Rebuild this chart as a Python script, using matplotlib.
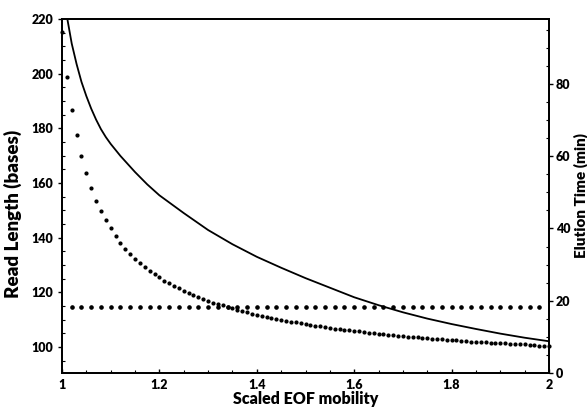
import numpy as np
import matplotlib
matplotlib.use("Agg")
import matplotlib.pyplot as plt
from matplotlib.ticker import MultipleLocator, FuncFormatter

# solid curve: read length (bases) vs scaled EOF mobility
mob_solid = [1.011, 1.02, 1.03, 1.04, 1.05, 1.06, 1.07, 1.08, 1.09, 1.10,
             1.12, 1.15, 1.175, 1.2, 1.25, 1.3, 1.35, 1.4, 1.45, 1.5,
             1.55, 1.6, 1.65, 1.7, 1.75, 1.8, 1.85, 1.9, 1.95, 2.0]
read_len = [220, 211.0, 203.5, 197.0, 191.8, 187.2, 183.2, 179.7, 176.8, 174.3,
            169.9, 164.0, 159.5, 155.5, 149.0, 142.8, 137.6, 133.0, 129.0, 125.2,
            121.7, 118.2, 115.3, 112.7, 110.4, 108.4, 106.6, 104.9, 103.4, 102.1]

# dotted curve: elution time (min), one point every 0.01
mob_time = np.round(np.arange(1.00, 2.001, 0.01), 2)
elution = [94.3, 82.0, 72.8, 65.8, 60.1, 55.4, 51.1, 47.7, 44.8, 42.3,
           40.1, 37.9, 36.0, 34.4, 32.9, 31.6, 30.4, 29.3, 28.3, 27.3,
           26.5, 25.6, 24.9, 24.1, 23.4, 22.8, 22.2, 21.6, 21.0, 20.5,
           20.0, 19.5, 19.1, 18.7, 18.3, 17.9, 17.5, 17.1, 16.8, 16.4,
           16.1, 15.8, 15.5, 15.2, 15.0, 14.7, 14.4, 14.2, 14.0, 13.7,
           13.5, 13.3, 13.1, 12.9, 12.7, 12.5, 12.3, 12.1, 12.0, 11.8,
           11.6, 11.5, 11.3, 11.2, 11.0, 10.9, 10.7, 10.6, 10.5, 10.3,
           10.2, 10.1, 10.0, 9.9, 9.8, 9.6, 9.5, 9.4, 9.3, 9.2,
           9.1, 9.0, 8.9, 8.8, 8.7, 8.7, 8.6, 8.5, 8.4, 8.3,
           8.2, 8.2, 8.1, 8.0, 7.9, 7.9, 7.8, 7.7, 7.6, 7.6, 7.5]

# horizontal dotted line
mob_flat = np.round(np.arange(1.02, 1.981, 0.02), 2)
flat_len = [114.7] * len(mob_flat)

plt.rcParams['font.family'] = ['Lato', 'DejaVu Sans']
plt.rcParams['font.weight'] = 'heavy'

fig = plt.figure(figsize=(5.87, 4.12), dpi=100)
ax = fig.add_axes([0.1056, 0.0947, 0.8297, 0.8592])
ax2 = ax.twinx()

ax.plot(mob_solid, read_len, 'k-', linewidth=1.3)
ax.plot(mob_flat, flat_len, 'ko', markersize=2.3, linestyle='none')
ax2.plot(mob_time, elution, 'ko', markersize=2.0, linestyle='none', clip_on=False)

ax.set_xlim(1, 2)
ax.set_ylim(90.5, 220)
ax2.set_ylim(0, 98)

ax.xaxis.set_major_locator(MultipleLocator(0.2))
ax.xaxis.set_minor_locator(MultipleLocator(0.05))
ax.xaxis.set_major_formatter(FuncFormatter(lambda v, p: f"{v:g}"))
ax.yaxis.set_major_locator(MultipleLocator(20))
ax.yaxis.set_minor_locator(MultipleLocator(5))
ax2.yaxis.set_major_locator(MultipleLocator(20))
ax2.yaxis.set_minor_locator(MultipleLocator(5))

for a in (ax, ax2):
    a.tick_params(which='major', direction='out', length=3, width=1, labelsize=9)
    a.tick_params(which='minor', direction='in', length=2, width=0.8)
    for s in a.spines.values():
        s.set_linewidth(1.3)
ax.tick_params(axis='x', which='major', direction='in', length=3, pad=4)
ax2.tick_params(axis='y', which='major', pad=2)

ax.set_xlabel('Scaled EOF mobility', fontsize=11.5, fontweight='heavy', labelpad=0)
ax.set_ylabel('Read Length (bases)', fontsize=13.5, fontweight='heavy')
ax.yaxis.set_label_coords(-0.082, 0.45)
ax2.set_ylabel('Elution Time (min)', fontsize=11, fontweight='heavy', labelpad=2)

fig.savefig('out.png', dpi=100)
